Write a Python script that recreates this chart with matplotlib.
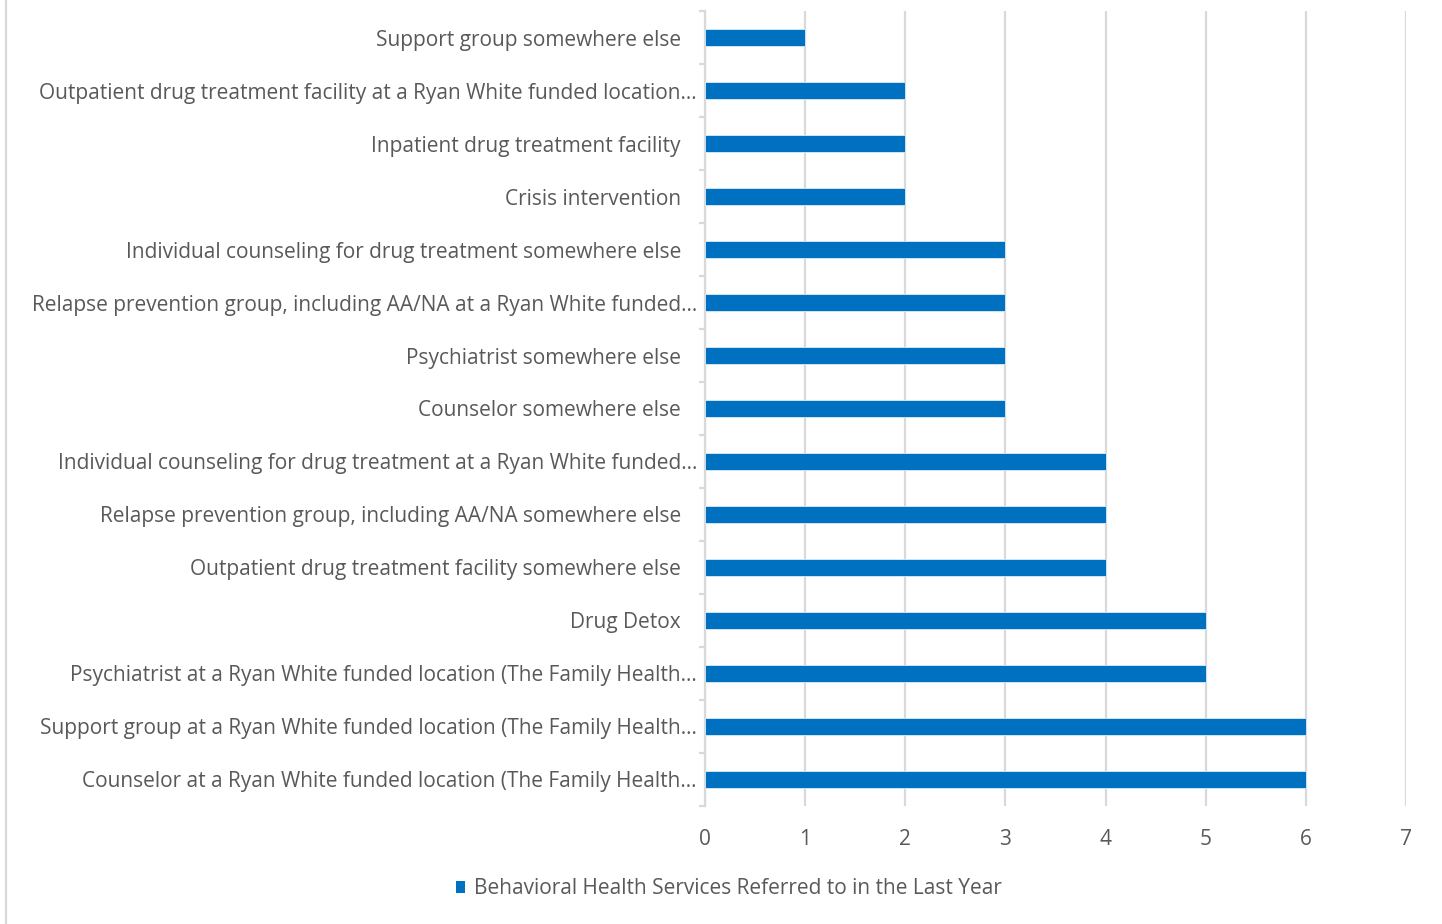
import matplotlib
matplotlib.use("Agg")
import matplotlib.pyplot as plt
from matplotlib.lines import Line2D
from matplotlib.patches import Patch
import matplotlib.transforms as mtransforms

categories = [
    "Counselor at a Ryan White funded location (The Family Health…",
    "Support group at a Ryan White funded location (The Family Health…",
    "Psychiatrist at a Ryan White funded location (The Family Health…",
    "Drug Detox",
    "Outpatient drug treatment facility somewhere else",
    "Relapse prevention group, including AA/NA somewhere else",
    "Individual counseling for drug treatment at a Ryan White funded…",
    "Counselor somewhere else",
    "Psychiatrist somewhere else",
    "Relapse prevention group, including AA/NA at a Ryan White funded…",
    "Individual counseling for drug treatment somewhere else",
    "Crisis intervention",
    "Inpatient drug treatment facility",
    "Outpatient drug treatment facility at a Ryan White funded location…",
    "Support group somewhere else",
]
values = [6, 6, 5, 5, 4, 4, 4, 3, 3, 3, 3, 2, 2, 2, 1]
series_name = "Behavioral Health Services Referred to in the Last Year"
xticks = [0, 1, 2, 3, 4, 5, 6, 7]

plt.rcParams['font.family'] = ['Open Sans', 'DejaVu Sans']
text_color = "#595959"
grid_color = "#d9d9d9"
bar_color = "#0070C0"
fs = 15

fig = plt.figure(figsize=(14.42, 9.24), dpi=100)
ax = fig.add_axes([705/1442, 1-805.5/924, (1406-705)/1442, (805.5-11.5)/924])

y = list(range(len(categories)))
ax.barh(y, values, height=0.32, color=bar_color, edgecolor="#ddebf7", linewidth=0.6, zorder=3,
        label=series_name)
ax.set_xlim(0, 7)
ax.set_ylim(-0.5, len(categories) - 0.5)
ax.set_xticks(xticks)
ax.set_xticklabels([str(t) for t in xticks])
ax.set_yticks(y)
ax.set_yticklabels(categories)
ax.set_yticks([i - 0.5 for i in range(len(categories) + 1)], minor=True)

ax.grid(axis="x", color=grid_color, linewidth=1.6, zorder=0)
for s in ["top", "right", "bottom"]:
    ax.spines[s].set_visible(False)
ax.spines["left"].set_color(grid_color)
ax.spines["left"].set_linewidth(1.6)

ax.tick_params(axis="y", which="major", length=0, pad=17.3, labelsize=fs, labelcolor=text_color)
ax.tick_params(axis="y", which="minor", length=4, width=1.6, color=grid_color, direction="out")
ax.tick_params(axis="x", length=0, pad=17, labelsize=fs, labelcolor=text_color)

# truncated labels extend closer to the axis
shift = mtransforms.ScaledTranslation(16/100, 0, fig.dpi_scale_trans)
for lbl in ax.get_yticklabels():
    if lbl.get_text().endswith("…"):
        lbl.set_transform(lbl.get_transform() + shift)

handles = [Patch(facecolor=bar_color, edgecolor="none")]
fig.legend(handles, [series_name], loc="center", bbox_to_anchor=(729/1442, 1-889/924),
           frameon=False, fontsize=fs, labelcolor=text_color, handlelength=0.45,
           handleheight=0.45, handletextpad=0.45)

fig.add_artist(Line2D([6/1442, 6/1442], [0, 1], transform=fig.transFigure, color=grid_color, linewidth=1.6))

fig.savefig("out.png", dpi=100, facecolor="white")
